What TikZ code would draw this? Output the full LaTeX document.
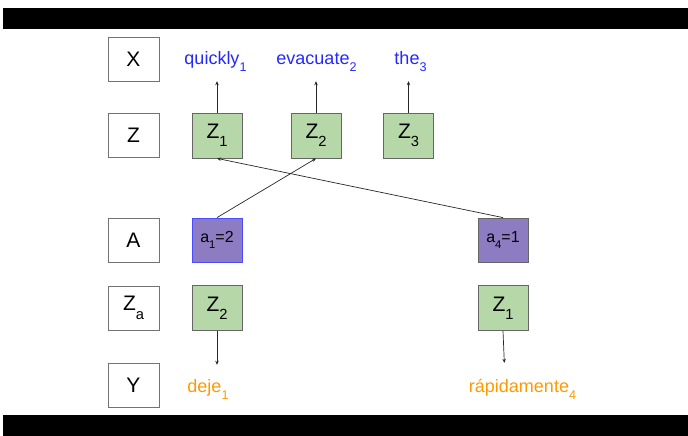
\documentclass[tikz,border=0pt]{standalone}
\usepackage{fontspec}
\usepackage{graphicx}
\setmainfont{Liberation Sans}
\usetikzlibrary{arrows.meta, positioning, calc}
\definecolor{wordblue}{RGB}{35, 40, 255}
\definecolor{wordorange}{RGB}{255, 153, 0}
\definecolor{zgreen}{RGB}{182, 215, 168}
\definecolor{apurple}{RGB}{142, 124, 195}
\definecolor{aborder}{RGB}{74, 74, 255}

% lowered index as in Z_1, a_4=1
\newcommand{\idx}[1]{\raisebox{-0.4em}{\scalebox{0.7}{#1}}}

\begin{document}
\begin{tikzpicture}[
    x=1pt, y=-1pt,
    rowlabel/.style={rectangle, draw=black!55, line width=0.8pt, minimum width=51pt, minimum height=44pt, font=\fontsize{21}{25}\selectfont},
    zblock/.style={rectangle, draw=black!60, line width=0.8pt, fill=zgreen, minimum width=50pt, minimum height=45pt, font=\fontsize{21}{25}\selectfont},
    ablock/.style={rectangle, draw=black!60, line width=0.8pt, fill=apurple, minimum width=50pt, minimum height=44pt, font=\fontsize{16}{19}\selectfont},
    word/.style={anchor=base, inner sep=0pt, text height=13pt, text depth=8pt, font=\fontsize{18}{21}\selectfont},
    link/.style={-{Stealth[length=4pt, width=3.5pt]}, line width=0.7pt, black!85}
]
\useasboundingbox (0,0) rectangle (688,436);

% Bars
\fill[black] (3,8) rectangle (688,28.7);
\fill[black] (3,414.7) rectangle (688,436);

% Row labels
\node[rowlabel] (lx) at (133.5,59) {X};
\node[rowlabel] (lz) at (133.5,135.5) {Z};
\node[rowlabel] (la) at (133.5,240) {A};
\node[rowlabel] (lza) at (133.5,308) {Z\idx{a}};
\node[rowlabel] (ly) at (133.5,385) {Y};

% Source words
\node[word, text=wordblue] (quickly) at (215.5,64.5) {quickly\idx{1}};
\node[word, text=wordblue] (evacuate) at (316.5,64.5) {evacuate\idx{2}};
\node[word, text=wordblue] (the) at (410.5,64.5) {the\idx{3}};

% Latent states
\node[zblock] (z1) at (217,135.5) {Z\idx{1}};
\node[zblock] (z2) at (316,135.5) {Z\idx{2}};
\node[zblock] (z3) at (408.5,135.5) {Z\idx{3}};

% Alignments
\node[ablock, draw=aborder] (a1) at (217,240) {a\idx{1}=2};
\node[ablock] (a4) at (503,240) {a\idx{4}=1};

% Aligned states
\node[zblock] (za2) at (217,308) {Z\idx{2}};
\node[zblock] (za1) at (503,308) {Z\idx{1}};

% Target words
\node[word, text=wordorange] (deje) at (208,392) {deje\idx{1}};
\node[word, text=wordorange] (rapid) at (522.5,392) {rápidamente\idx{4}};

% Arrows
\draw[link, shorten >=8.5pt] (z1.north) -- (z1.north |- quickly.south);
\draw[link, shorten >=8.5pt] (z2.north) -- (z2.north |- evacuate.south);
\draw[link, shorten >=8.5pt] (z3.north) -- (z3.north |- the.south);

\draw[link] (a1.north) -- (z2.south);
\draw[link] (a4.north) -- (z1.south);

\draw[link, shorten >=14pt] (za2.south) -- (za2.south |- deje.north);
\draw[link, shorten >=16pt] (za1.south) -- ([xshift=2pt]za1.south |- rapid.north);

\end{tikzpicture}
\end{document}
